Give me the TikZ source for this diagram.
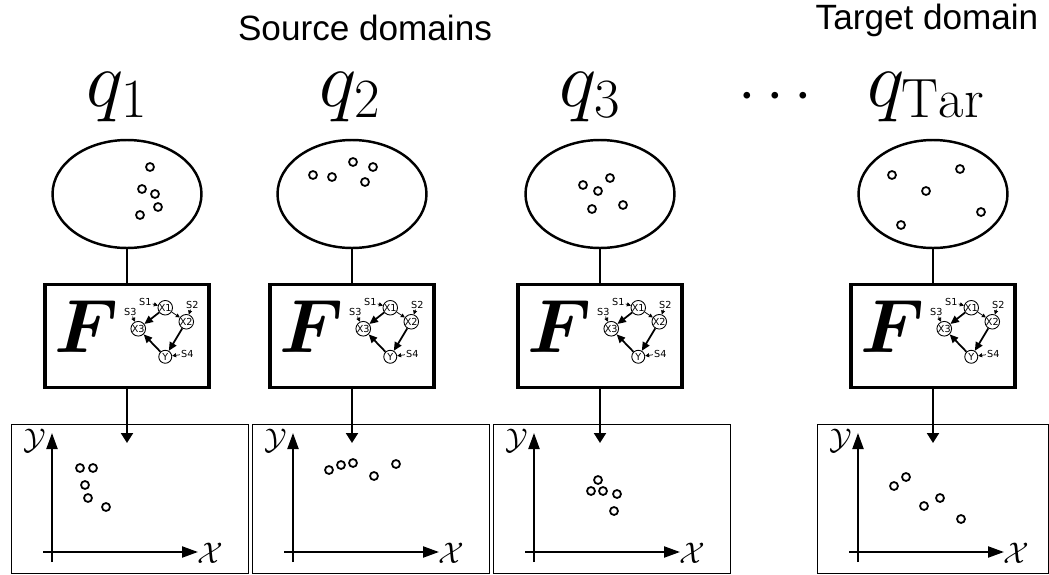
\RequirePackage{fix-cm}
\documentclass[tikz,border=0pt]{standalone}
\usepackage{amsmath,bm}
\usepackage{fontspec}
\newfontfamily\arialfont{Liberation Sans}
\newfontfamily\graphfont{DejaVu Sans}
\usetikzlibrary{positioning,arrows.meta,shapes.geometric,calc}

\begin{document}
\begin{tikzpicture}[x=0.02cm, y=-0.02cm,
    title/.style={font=\arialfont\fontsize{20}{24}\selectfont, inner sep=0pt},
    qlabel/.style={font=\fontsize{45}{50}\selectfont, inner sep=0pt, anchor=base},
    distbox/.style={ellipse, draw, line width=1.4pt, minimum width=2.98cm,
        minimum height=2.16cm, inner sep=0pt},
    fbox/.style={rectangle, draw, line width=2pt, minimum width=3.28cm, minimum height=2.06cm},
    plotbox/.style={rectangle, draw, line width=0.8pt, anchor=north west, minimum height=2.98cm},
    var/.style={circle, draw, line width=0.5pt, minimum size=0.26cm, inner sep=0pt,
        font=\graphfont\fontsize{5.5}{6}\selectfont},
    noise/.style={inner sep=0.5pt, font=\graphfont\fontsize{5.5}{6}\selectfont},
    link/.style={line width=1.4pt},
    arr/.style={-{Triangle[length=2mm, width=2.4mm]}, line width=1.2pt},
    axis/.style={-{Triangle[length=3.2mm, width=2.2mm]}, line width=1.2pt},
    causal/.style={-{Triangle[length=1.7mm, width=1.5mm]}, line width=1pt},
    weak/.style={-{Triangle[length=0.8mm, width=0.8mm]}, line width=0.4pt},
    sample/.style={line width=1pt},
    axlabel/.style={font=\fontsize{17}{20}\selectfont, inner sep=0pt},
]
\useasboundingbox (0,0) rectangle (1049,575);

\node[title] (src) at (365,28) {Source domains};
\node[title] (tar) at (927,20) {Target domain};

\node[qlabel] (q1) at (117,106) {$q_1$};
\node[qlabel] (q2) at (350,106) {$q_2$};
\node[qlabel] (q3) at (590,106) {$q_3$};
\node[qlabel] (q4) at (926,106) {$q_{\mathrm{Tar}}$};
\node[font=\fontsize{36}{40}\selectfont, inner sep=0pt] (dots) at (781,97) {$\cdots$};

% one column per domain
\foreach \i/\cx/\pl/\pw in {1/127/11/4.74cm, 2/352/252/4.74cm, 3/600/493/4.74cm, 4/933/817/4.62cm} {
    \node[distbox] (e\i) at (\cx,194) {};
    \node[fbox] (f\i) at (\cx,336) {};
    \node[plotbox, minimum width=\pw] (p\i) at (\pl,424) {};
    \coordinate (a\i) at (\cx,443);
    \draw[link] (e\i) -- (f\i);
    \draw[arr] (f\i) -- (a\i);

    % causal graph
    \node[font=\fontsize{43}{46}\selectfont, inner sep=0pt] (F\i) at ($(f\i.north west)+(43,44)$) {$\bm{F}$};
    \node[var] (x1-\i) at ($(f\i.north west)+(122,25)$) {X1};
    \node[var] (x2-\i) at ($(f\i.north west)+(143,39)$) {X2};
    \node[var] (x3-\i) at ($(f\i.north west)+(95,46)$) {X3};
    \node[var] (y-\i) at ($(f\i.north west)+(122,74)$) {Y};
    \node[noise] (s1-\i) at ($(f\i.north west)+(102,19)$) {S1};
    \node[noise] (s2-\i) at ($(f\i.north west)+(149,22)$) {S2};
    \node[noise] (s3-\i) at ($(f\i.north west)+(87,29)$) {S3};
    \node[noise] (s4-\i) at ($(f\i.north west)+(144,71)$) {S4};
    \draw[causal] (x1-\i) -- (x3-\i);
    \draw[causal] (x2-\i) -- (y-\i);
    \draw[causal] (y-\i) -- (x3-\i);
    \draw[weak] (x1-\i) -- (x2-\i);
    \draw[weak] (s1-\i) -- (x1-\i);
    \draw[weak] (s2-\i) -- (x2-\i);
    \draw[weak] (s3-\i) -- (x3-\i);
    \draw[weak] (s4-\i) -- (y-\i);

    % axes
    \coordinate (yb\i) at (\pl+41,562);
    \coordinate (yt\i) at (\pl+41,433);
    \coordinate (xl\i) at (\pl+32,552);
    \coordinate (xr\i) at (\pl+187,552);
    \draw[axis] (yb\i) -- (yt\i);
    \draw[axis] (xl\i) -- (xr\i);
    \node[axlabel] (ly\i) at (\pl+24,441) {$\mathcal{Y}$};
    \node[axlabel] (lx\i) at (\pl+199,553) {$\mathcal{X}$};
}

% samples in the domains
\foreach \px/\py in {150/167, 142/189, 155/194, 158/207, 140/215,
        313/175, 332/177, 353/162, 373/167, 365/182,
        583/185, 610/178, 598/191, 592/209, 623/205,
        892/175, 926/191, 960/169, 901/225, 981/212}
    \draw[sample] (\px,\py) circle[radius=4];

% samples in the plots
\foreach \px/\py in {80/468, 93/468, 85/485, 88/498, 106/507,
        329/470, 341/465, 353/463, 374/476, 396/464,
        598/480, 591/491, 603/491, 617/494, 614/511,
        894/486, 906/477, 924/506, 940/498, 961/519}
    \draw[sample] (\px,\py) circle[radius=4];
\end{tikzpicture}
\end{document}
